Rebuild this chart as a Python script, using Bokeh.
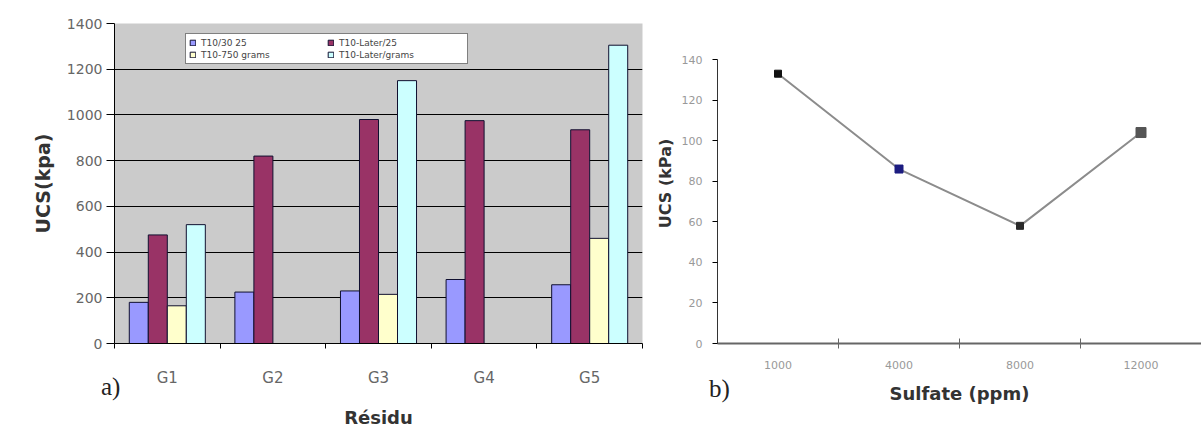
import numpy as np
from bokeh.plotting import figure
from bokeh.models import ColumnDataSource, FixedTicker, Legend, LegendItem, Range1d, Div
from bokeh.transform import dodge
from bokeh.layouts import row
from bokeh.embed import file_html
from bokeh.resources import INLINE

# ---------------- data ----------------
residues = ["G1", "G2", "G3", "G4", "G5"]
t10_30_25 = [180, 225, 230, 280, 257]
t10_later_25 = [475, 820, 980, 975, 935]
t10_750_grams = [165, np.nan, 215, np.nan, 460]
t10_later_grams = [520, np.nan, 1150, np.nan, 1305]
series_names = ["T10/30 25", "T10-Later/25", "T10-750 grams", "T10-Later/grams"]
ucs_ticks = list(range(0, 1401, 200))

sulfate_ppm = ["1000", "4000", "8000", "12000"]
ucs_kpa = [133, 86, 58, 104]
ucs_b_ticks = list(range(0, 141, 20))
panel_tags = ["a)", "b)"]

# ---------------- styles ----------------
bar_colors = ["#9999FF", "#993366", "#FFFFCC", "#CCFFFF"]
bar_offsets = [-0.27, -0.09, 0.09, 0.27]
marker_colors = ["#111111", "#1c1c80", "#2a2a2a", "#555555"]
marker_sizes = [7, 8, 7, 10]
TICK_FONT = "DejaVu Sans"
BORDER_TOP, BORDER_BOTTOM = 23, 91
FRAME_H = 434 - BORDER_TOP - BORDER_BOTTOM

# ---------------- chart a) ----------------
xs = [i + 0.5 for i in range(len(residues))]
src = ColumnDataSource(dict(x=xs, s1=t10_30_25, s2=t10_later_25, s3=t10_750_grams, s4=t10_later_grams))

p1 = figure(width=650, height=434, x_range=Range1d(0, len(residues)), y_range=Range1d(0, ucs_ticks[-1]),
            output_backend="svg", toolbar_location=None,
            min_border_left=114, min_border_right=8, min_border_top=BORDER_TOP, min_border_bottom=BORDER_BOTTOM)
p1.background_fill_color = "#cbcbcb"
p1.outline_line_color = None

items = []
for key, name, col, off in zip(["s1", "s2", "s3", "s4"], series_names, bar_colors, bar_offsets):
    r = p1.vbar(x=dodge("x", off, range=p1.x_range), top=key, width=0.18, bottom=0, source=src,
                fill_color=col, line_color="#101030", line_width=1)
    items.append(LegendItem(label=name, renderers=[r]))

# legend fills column by column: order so that rows read (1,2) / (3,4)
legend = Legend(items=[items[0], items[2], items[1], items[3]], ncols=2,
                location=(71, FRAME_H - 10 - 31))
legend.label_text_font_size = "9px"
legend.label_text_font = TICK_FONT
legend.label_text_color = "#444444"
legend.glyph_width = 7
legend.glyph_height = 7
legend.label_height = 11
legend.label_width = 125
legend.spacing = 1
legend.padding = 3
legend.margin = 0
legend.border_line_color = "black"
legend.border_line_width = 1.5
legend.background_fill_color = "white"
legend.background_fill_alpha = 1
p1.add_layout(legend)

p1.ygrid.grid_line_color = "black"
p1.ygrid.grid_line_width = 1.2
p1.xgrid.visible = False
p1.yaxis.ticker = FixedTicker(ticks=ucs_ticks)
p1.yaxis.major_tick_out = 8
p1.yaxis.major_tick_in = 0
p1.yaxis.minor_tick_line_color = None
p1.yaxis.major_label_text_font = TICK_FONT
p1.yaxis.major_label_text_font_size = "14px"
p1.yaxis.major_label_text_color = "#666666"
p1.yaxis.major_label_standoff = 4
p1.yaxis.axis_label = "UCS(kpa)"
p1.yaxis.axis_label_text_font = TICK_FONT
p1.yaxis.axis_label_text_font_style = "bold"
p1.yaxis.axis_label_text_font_size = "19px"
p1.yaxis.axis_label_text_color = "#333333"
p1.yaxis.axis_label_standoff = 10
p1.yaxis.axis_line_color = "black"

p1.xaxis.ticker = FixedTicker(ticks=xs, minor_ticks=list(range(0, len(residues) + 1)))
p1.xaxis.major_label_overrides = {x: lab for x, lab in zip(xs, residues)}
p1.xaxis.major_tick_line_color = None
p1.xaxis.minor_tick_line_color = "black"
p1.xaxis.minor_tick_out = 5
p1.xaxis.minor_tick_in = 0
p1.xaxis.major_label_text_font = TICK_FONT
p1.xaxis.major_label_text_font_size = "15px"
p1.xaxis.major_label_text_color = "#666666"
p1.xaxis.major_label_standoff = 19
p1.xaxis.axis_label = "Résidu"
p1.xaxis.axis_label_text_font = TICK_FONT
p1.xaxis.axis_label_text_font_style = "bold"
p1.xaxis.axis_label_text_font_size = "18px"
p1.xaxis.axis_label_text_color = "#333333"
p1.xaxis.axis_label_standoff = 17
p1.xaxis.axis_line_color = "black"

# ---------------- chart b) ----------------
px_per_unit = (FRAME_H - 36) / ucs_b_ticks[-1]
y2_end = ucs_b_ticks[-1] + 36 / px_per_unit
xs2 = [i + 0.5 for i in range(len(sulfate_ppm))]
src2 = ColumnDataSource(dict(x=xs2, y=ucs_kpa, c=marker_colors, s=marker_sizes))

p2 = figure(width=551, height=434, x_range=Range1d(0, len(sulfate_ppm)), y_range=Range1d(0, y2_end),
            output_backend="svg", toolbar_location=None,
            min_border_left=67, min_border_right=0, min_border_top=BORDER_TOP, min_border_bottom=BORDER_BOTTOM)
p2.outline_line_color = None
p2.grid.visible = False
p2.line("x", "y", source=src2, line_color="#8c8c8c", line_width=2)
p2.scatter("x", "y", source=src2, marker="square", size="s", fill_color="c", line_color="c")

p2.yaxis.ticker = FixedTicker(ticks=ucs_b_ticks)
p2.yaxis.bounds = (0, ucs_b_ticks[-1])
p2.yaxis.major_tick_out = 5
p2.yaxis.major_tick_in = 0
p2.yaxis.minor_tick_line_color = None
p2.yaxis.major_label_text_font = TICK_FONT
p2.yaxis.major_label_text_font_size = "11px"
p2.yaxis.major_label_text_color = "#999999"
p2.yaxis.major_label_standoff = 10
p2.yaxis.axis_label = "UCS (kPa)"
p2.yaxis.axis_label_text_font = TICK_FONT
p2.yaxis.axis_label_text_font_style = "bold"
p2.yaxis.axis_label_text_font_size = "16px"
p2.yaxis.axis_label_text_color = "#333333"
p2.yaxis.axis_label_standoff = 4
p2.yaxis.axis_line_color = "#333333"

p2.xaxis.ticker = FixedTicker(ticks=xs2, minor_ticks=list(range(1, len(sulfate_ppm))))
p2.xaxis.major_label_overrides = {x: lab for x, lab in zip(xs2, sulfate_ppm)}
p2.xaxis.major_tick_line_color = None
p2.xaxis.minor_tick_line_color = "#666666"
p2.xaxis.minor_tick_out = 5
p2.xaxis.minor_tick_in = 5
p2.xaxis.axis_line_color = "#666666"
p2.xaxis.axis_line_width = 2
p2.xaxis.major_label_text_font = TICK_FONT
p2.xaxis.major_label_text_font_size = "11px"
p2.xaxis.major_label_text_color = "#999999"
p2.xaxis.major_label_standoff = 11
p2.xaxis.axis_label = "Sulfate (ppm)"
p2.xaxis.axis_label_text_font = TICK_FONT
p2.xaxis.axis_label_text_font_style = "bold"
p2.xaxis.axis_label_text_font_size = "18px"
p2.xaxis.axis_label_text_color = "#333333"
p2.xaxis.axis_label_standoff = 11

# panel tags: positioned HTML text over the two charts
tag_style = {"position": "absolute", "line-height": "1"}


def tag_html(t):
    return ('<span style="font-family:\'Liberation Serif\';font-size:25px;color:#222222;'
            'line-height:1">%s</span>' % t)


div_a = Div(text=tag_html(panel_tags[0]), width=32, height=28, styles=dict(tag_style, left="96px", top="369px"))
div_b = Div(text=tag_html(panel_tags[1]), width=32, height=28, styles=dict(tag_style, left="704px", top="371px"))

layout = row(p1, p2, div_a, div_b)
open("out.html", "w").write(file_html(layout, INLINE))
